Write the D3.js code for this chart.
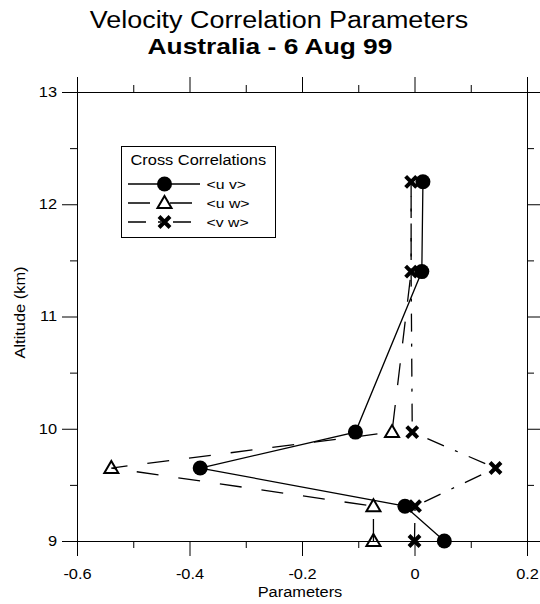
<!DOCTYPE html>
<html>
<head>
<meta charset="utf-8">
<script src="https://cdn.jsdelivr.net/npm/d3@7"></script>
<style>
  html, body { margin: 0; padding: 0; background: #fff; }
  svg { display: block; font-family: "Liberation Sans", Arial, sans-serif; }
</style>
</head>
<body>
<div id="chart"></div>
<script>
// Velocity correlation profiles - altitude vs. correlation parameter.
const altitudes = [9.0, 9.31, 9.65, 9.97, 11.4, 12.2];
const uvValues = [0.053, -0.017, -0.381, -0.105, 0.013, 0.015];
const uwValues = [-0.073, -0.073, -0.539, -0.040, -0.006, -0.006];
const vwValues = [0.000, 0.001, 0.144, -0.004, -0.006, -0.006];

const xTicks = [-0.6, -0.4, -0.2, 0, 0.2];
const xMinorTicks = [-0.5, -0.3, -0.1, 0.1];
const yTicks = [9, 10, 11, 12, 13];
const yMinorTicks = [9.5, 10.5, 11.5, 12.5];

const seriesNames = ['<u v>', '<u w>', '<v w>'];

(function () {
    const width = 540, height = 604;
    const margin = { top: 92, right: 13, bottom: 63, left: 77 };
    const textStretch = 1.17; // the original type is set wider than Liberation Sans

    const svg = d3.select('#chart').append('svg')
        .attr('width', width)
        .attr('height', height);

    const x = d3.scaleLinear().domain([-0.6, 0.2]).range([margin.left, width - margin.right]);
    const y = d3.scaleLinear().domain([9, 13]).range([height - margin.bottom, margin.top]);

    // Titles
    svg.append('text')
        .attr('x', 279).attr('y', 28)
        .attr('text-anchor', 'middle')
        .attr('font-size', 23)
        .text('Velocity Correlation Parameters');
    svg.append('text')
        .attr('x', 270).attr('y', 54)
        .attr('text-anchor', 'middle')
        .attr('font-size', 22.5)
        .attr('font-weight', 'bold')
        .text('Australia - 6 Aug 99');

    // Axes on all four sides, ticks pointing outward
    const major = 15, minor = 7;
    const axes = svg.append('g').attr('class', 'axes');

    const drawAxis = (axisFn, scale, ticks, minors, transform, labels) => {
        const g = axes.append('g').attr('transform', transform);
        g.call(axisFn(scale).tickValues(ticks).tickSize(major)
            .tickFormat(labels ? d => String(d) : () => ''));
        const gm = axes.append('g').attr('transform', transform);
        gm.call(axisFn(scale).tickValues(minors).tickSize(minor).tickFormat(() => ''));
        gm.select('.domain').remove();
        [g, gm].forEach(s => {
            s.selectAll('path, line').attr('stroke', '#000').attr('stroke-width', 1);
            s.selectAll('text').attr('fill', '#000').attr('font-size', 14)
                .attr('font-family', '"Liberation Sans", Arial, sans-serif');
        });
        if (!labels) g.selectAll('text').remove();
        gm.selectAll('text').remove();
        return g;
    };

    const bottom = drawAxis(d3.axisBottom, x, xTicks, xMinorTicks,
        `translate(0,${height - margin.bottom})`, true);
    bottom.selectAll('text').attr('dy', '0.71em').attr('y', major + 13);
    drawAxis(d3.axisTop, x, xTicks, xMinorTicks, `translate(0,${margin.top})`, false);
    const left = drawAxis(d3.axisLeft, y, yTicks, yMinorTicks, `translate(${margin.left},0)`, true);
    left.selectAll('text').attr('x', -major - 5);
    drawAxis(d3.axisRight, y, yTicks, yMinorTicks, `translate(${width - margin.right},0)`, false);

    // Axis titles
    svg.append('text')
        .attr('x', 300).attr('y', 597)
        .attr('text-anchor', 'middle')
        .attr('font-size', 14)
        .text('Parameters');
    svg.append('text')
        .attr('transform', `translate(25,${(margin.top + height - margin.bottom) / 2 - 4}) rotate(-90)`)
        .attr('text-anchor', 'middle')
        .attr('font-size', 14)
        .text('Altitude (km)');

    // Series
    const dashes = [null, '22,20', '18,12,3,12'];
    const seriesValues = [uvValues, uwValues, vwValues];
    const plot = svg.append('g');

    const line = d3.line().x(d => x(d[0])).y(d => y(d[1]));
    seriesValues.forEach((vals, i) => {
        plot.append('path')
            .datum(vals.map((v, k) => [v, altitudes[k]]))
            .attr('fill', 'none')
            .attr('stroke', '#000')
            .attr('stroke-width', 1.3)
            .attr('stroke-dasharray', dashes[i])
            .attr('d', line);
    });

    const triPath = 'M0,-7L7,5L-7,5Z';
    const crossPath = 'M-5.5,-5.5L5.5,5.5M5.5,-5.5L-5.5,5.5';

    const drawMarker = (g, kind) => {
        if (kind === 0) {
            g.append('circle').attr('r', 7.5).attr('fill', '#000');
        } else if (kind === 1) {
            g.append('path').attr('d', triPath)
                .attr('fill', 'none').attr('stroke', '#000').attr('stroke-width', 2);
        } else {
            g.append('path').attr('d', crossPath)
                .attr('fill', 'none').attr('stroke', '#000').attr('stroke-width', 4);
        }
    };

    // <u w> markers that sit on a <v w> cross are buried under it in the original
    const buried = (i, k) => i === 1 && Math.abs(x(uwValues[k]) - x(vwValues[k])) < 3;

    [1, 2, 0].forEach(i => {
        seriesValues[i].forEach((v, k) => {
            if (buried(i, k)) return;
            const g = plot.append('g').attr('transform', `translate(${x(v)},${y(altitudes[k])})`);
            drawMarker(g, i);
        });
    });

    // Legend
    const legend = svg.append('g').attr('transform', 'translate(121.5,146.5)');
    legend.append('rect')
        .attr('width', 154).attr('height', 91)
        .attr('fill', '#fff').attr('stroke', '#000').attr('stroke-width', 1);
    legend.append('text')
        .attr('x', 9).attr('y', 18.5)
        .attr('font-size', 14)
        .text('Cross Correlations');
    seriesNames.forEach((name, i) => {
        const ry = 37.5 + i * 19;
        legend.append('line')
            .attr('x1', 6.5).attr('x2', 78.5)
            .attr('y1', ry).attr('y2', ry)
            .attr('stroke', '#000').attr('stroke-width', 1.3)
            .attr('stroke-dasharray', dashes[i]);
        const g = legend.append('g').attr('transform', `translate(43,${ry})`);
        drawMarker(g, i);
        legend.append('text')
            .attr('x', 85).attr('y', ry + 4.5)
            .attr('font-size', 13.5)
            .text(name);
    });

    // Widen all text to the proportions of the original face
    svg.selectAll('text').each(function () {
        const w = this.getComputedTextLength();
        if (w > 0) {
            d3.select(this)
                .attr('textLength', w * textStretch)
                .attr('lengthAdjust', 'spacingAndGlyphs');
        }
    });
})();
</script>
</body>
</html>
